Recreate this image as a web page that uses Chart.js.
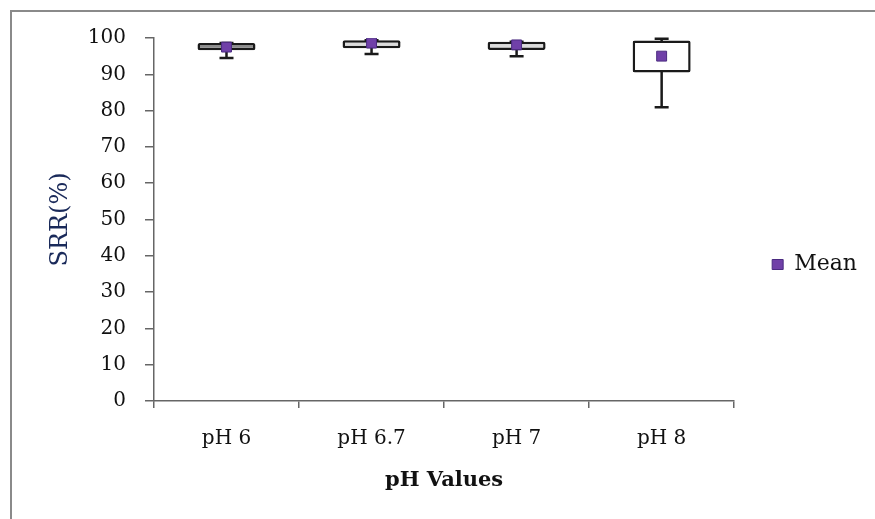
<!DOCTYPE html>
<html>
<head>
<meta charset="utf-8">
<script src="https://cdn.jsdelivr.net/npm/chart.js@4.4.1/dist/chart.umd.min.js"></script>
<style>
  html, body { margin: 0; padding: 0; background: #fff; }
  #frame { position: absolute; left: 10px; top: 10px; width: 870px; height: 515px; border: 2px solid #8a8a8a; box-sizing: border-box; }
  #wrap { position: absolute; left: 0; top: 0; width: 875px; height: 519px; }
</style>
</head>
<body>
<div id="frame"></div>
<div id="wrap"><canvas id="myChart" width="875" height="519"></canvas></div>
<script>
const categories = ['pH 6', 'pH 6.7', 'pH 7', 'pH 8'];
const minVals  = [94.5, 95.6, 95.0, 80.9];
const q1Vals   = [96.6, 97.2, 96.7, 90.5];
const q3Vals   = [98.6, 99.4, 99.0, 99.3];
const maxVals  = [98.6, 99.4, 99.0, 99.8];
const meanVals = [97.5, 98.6, 98.1, 95.0];
const boxFills = ['#8c8c8c', '#dcdcdc', '#dcdcdc', '#ffffff'];

const ctx = document.getElementById('myChart').getContext('2d');
const serif = 'DejaVu Serif';

// whiskers drawn behind the boxes
const whiskers = {
  id: 'whiskers',
  beforeDatasetsDraw(chart) {
    const x = chart.scales.x, y = chart.scales.y;
    const c = chart.ctx;
    c.save();
    c.strokeStyle = '#1a1a1a';
    c.lineWidth = 2.5;
    for (let i = 0; i < categories.length; i++) {
      const cx = x.getPixelForValue(i);
      const lo = y.getPixelForValue(minVals[i]);
      const hi = y.getPixelForValue(maxVals[i]);
      c.beginPath();
      c.moveTo(cx, lo); c.lineTo(cx, hi);
      c.moveTo(cx - 7, lo); c.lineTo(cx + 7, lo);
      c.moveTo(cx - 7, hi); c.lineTo(cx + 7, hi);
      c.stroke();
    }
    c.restore();
  }
};

const config = {
  type: 'bar',
  data: {
    labels: categories,
    datasets: [
      {
        label: 'Box',
        data: categories.map((c, i) => [q1Vals[i], q3Vals[i]]),
        backgroundColor: boxFills,
        borderColor: '#1a1a1a',
        borderWidth: 2.5,
        borderSkipped: false,
        borderRadius: 2,
        barPercentage: 0.4,
        categoryPercentage: 1,
        order: 1
      },
      {
        type: 'line',
        label: 'Mean',
        data: meanVals,
        showLine: false,
        pointStyle: 'rect',
        pointRadius: 7,
        pointBackgroundColor: '#7040a8',
        pointBorderColor: '#4a2a80',
        pointBorderWidth: 1,
        backgroundColor: '#7040a8',
        borderColor: '#4a2a80',
        order: 0
      }
    ]
  },
  options: {
    responsive: false,
    animation: false,
    layout: { padding: { left: 42, right: 8, top: 38, bottom: 28 } },
    plugins: {
      tooltip: { enabled: false },
      legend: {
        position: 'right',
        labels: {
          filter: item => item.text === 'Mean',
          usePointStyle: true,
          pointStyleWidth: 11,
          boxHeight: 10,
          color: '#111',
          padding: 38,
          font: { family: serif, size: 22 }
        }
      }
    },
    scales: {
      x: {
        grid: { offset: true, drawOnChartArea: false, tickLength: 7, color: '#666', lineWidth: 1.5 },
        border: { color: '#666', width: 1.5 },
        ticks: { color: '#111', padding: 23, font: { family: serif, size: 20, lineHeight: 0.8 } },
        title: { display: true, text: 'pH Values', color: '#111', padding: { top: 0, bottom: 0 }, font: { family: serif, size: 21, weight: 'bold', lineHeight: 1 } }
      },
      y: {
        min: 0,
        max: 100,
        grid: { drawOnChartArea: false, tickLength: 9, color: '#666', lineWidth: 1.5 },
        border: { color: '#666', width: 1.5 },
        ticks: { stepSize: 10, color: '#111', padding: 19, font: { family: serif, size: 20 } },
        title: { display: true, text: 'SRR(%)', color: '#1a2a5a', padding: { top: 4, bottom: -6 }, font: { family: serif, size: 24 } }
      }
    }
  },
  plugins: [whiskers]
};

const myChart = new Chart(ctx, config);
</script>
</body>
</html>
